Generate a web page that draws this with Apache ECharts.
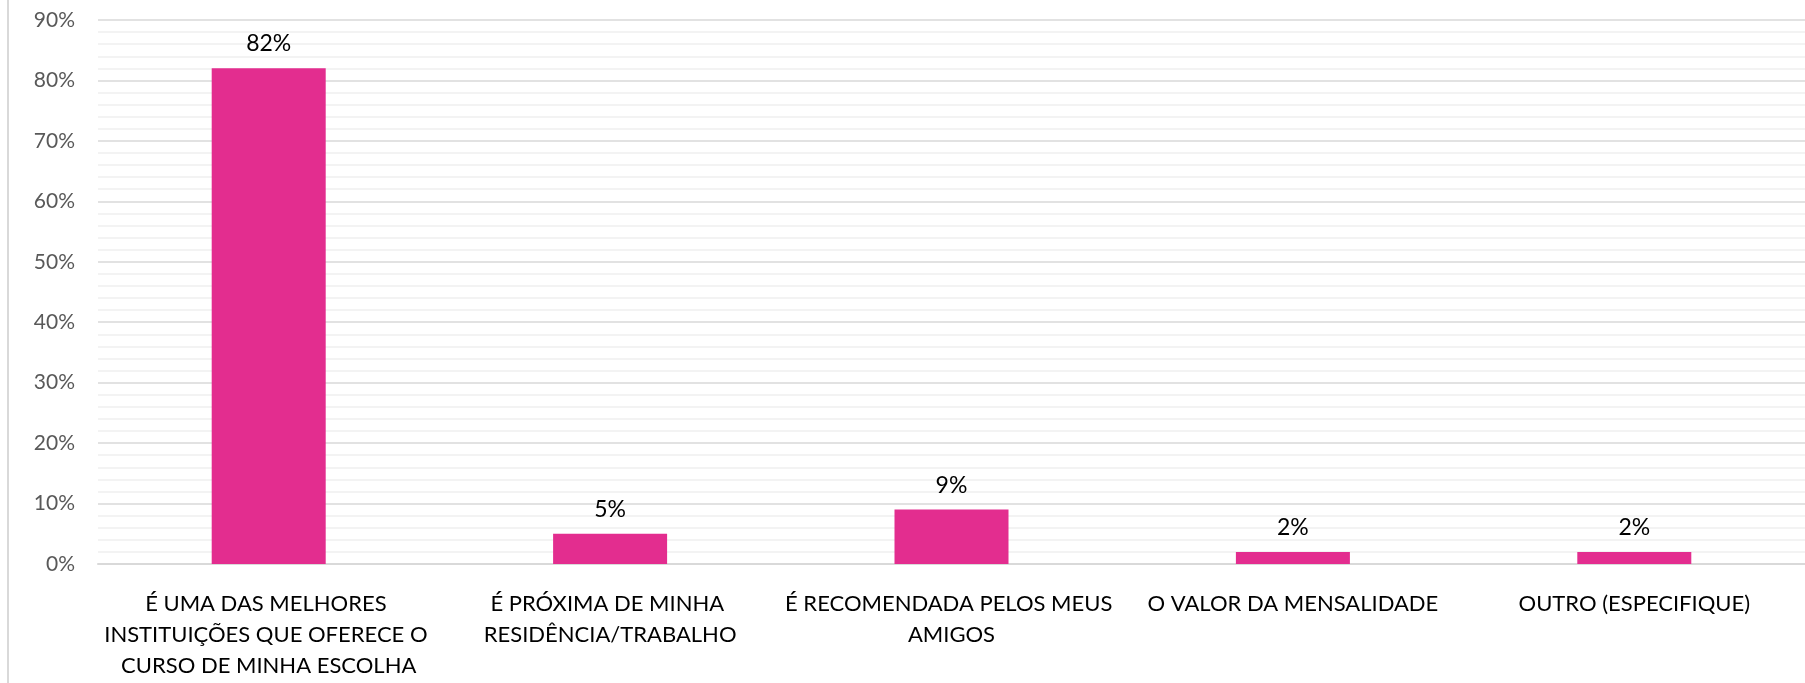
<!DOCTYPE html>
<html>
<head>
<meta charset="utf-8">
<script src="https://cdn.jsdelivr.net/npm/echarts@6/dist/echarts.min.js"></script>
<style>
  html, body { margin: 0; padding: 0; background: #fff; }
  #chart { width: 1805px; height: 683px; }
</style>
</head>
<body>
<div id="chart"></div>
<script>
// categorias e percentuais
var categorias = [
    'É UMA DAS MELHORES INSTITUIÇÕES QUE OFERECE O CURSO DE MINHA ESCOLHA',
    'É PRÓXIMA DE MINHA RESIDÊNCIA/TRABALHO',
    'É RECOMENDADA PELOS MEUS AMIGOS',
    'O VALOR DA MENSALIDADE',
    'OUTRO (ESPECIFIQUE)'
];
var percentuais = [82, 5, 9, 2, 2];
var yTicks = [0, 90, 10]; // min, max, intervalo

var fonte = 'Lato, "Liberation Sans", sans-serif';
var myChart = echarts.init(document.getElementById('chart'));

var option = {
    animation: false,
    grid: {
        left: 98,
        right: 0,
        top: 20,
        bottom: 119,
        outerBoundsMode: 'none'
    },
    graphic: [{
        type: 'line',
        shape: { x1: 8, y1: 0, x2: 8, y2: 683 },
        style: { stroke: '#d9d9d9', lineWidth: 2 }
    }],
    xAxis: {
        type: 'category',
        data: categorias,
        axisTick: { show: false },
        axisLine: { lineStyle: { color: '#d9d9d9', width: 2 } },
        axisLabel: {
            interval: 0,
            margin: 24,
            color: '#000',
            fontFamily: fonte,
            fontSize: 22,
            lineHeight: 31,
            width: 345,
            overflow: 'break'
        }
    },
    yAxis: {
        type: 'value',
        min: yTicks[0],
        max: yTicks[1],
        interval: yTicks[2],
        axisLabel: {
            formatter: '{value}%',
            color: '#595959',
            fontFamily: fonte,
            fontSize: 21,
            margin: 23
        },
        splitLine: { lineStyle: { color: '#d9d9d9', width: 1.5 } },
        minorTick: { show: false, splitNumber: 5 },
        minorSplitLine: { show: true, lineStyle: { color: '#f0f0f0', width: 1.5 } }
    },
    series: [{
        type: 'bar',
        data: percentuais,
        barWidth: 114,
        itemStyle: { color: '#E32D8F' },
        label: {
            show: true,
            position: 'top',
            distance: 13,
            formatter: '{c}%',
            color: '#000',
            fontFamily: fonte,
            fontSize: 23
        }
    }]
};
myChart.setOption(option);
</script>
</body>
</html>
